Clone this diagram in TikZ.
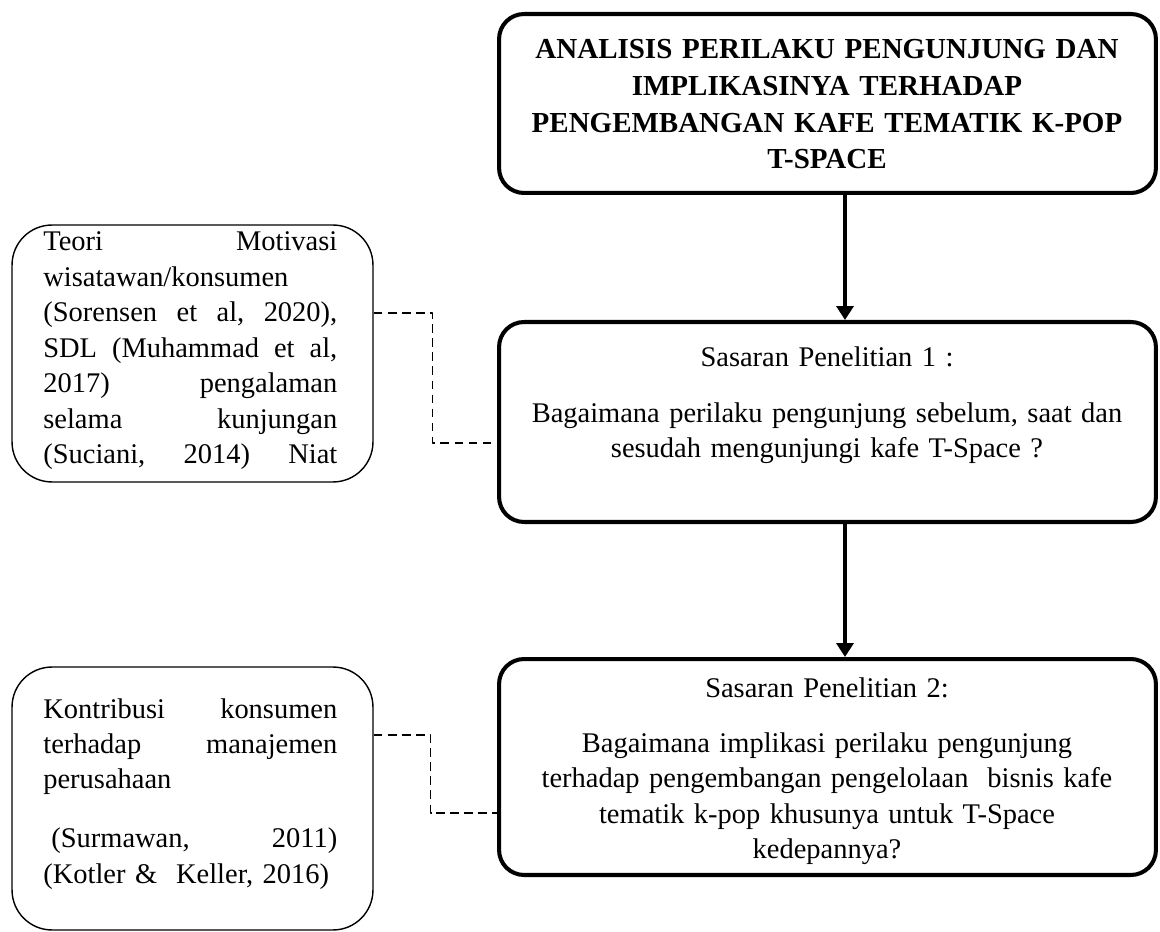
\documentclass[tikz,border=0pt]{standalone}
\usepackage{fontspec}
\setmainfont{Liberation Serif}
\usetikzlibrary{arrows.meta}

\tikzset{
  kotak/.style={draw, line width=2.3pt, rounded corners=0.5cm, minimum width=13.14cm},
  kotakkiri/.style={draw, line width=0.8pt, rounded corners=0.8cm, minimum width=7.22cm},
  teks/.style={text width=12.8cm, align=center, inner sep=0pt, font=\fontsize{16.2}{20.2}\selectfont},
  teksbold/.style={teks, font=\fontsize{16.5}{20.8}\selectfont\bfseries},
  tekskiri/.style={text width=5.88cm, align=left, inner sep=0pt, font=\fontsize{16.2}{20.2}\selectfont},
  panah/.style={-{Triangle[length=0.28cm, width=0.34cm]}, line width=2pt},
  putus/.style={dash pattern=on 5pt off 3pt, line width=0.6pt}
}

\begin{document}
\begin{tikzpicture}[x=0.02cm, y=-0.02cm, line join=round]

    \useasboundingbox (0,0) rectangle (1160,932);

    % Judul penelitian
    \node[kotak, minimum height=3.58cm] (judul) at (827.5,103.5) {};
    \node[teksbold, anchor=base] (judulteks) at (827,59) {ANALISIS PERILAKU PENGUNJUNG DAN\\ IMPLIKASINYA TERHADAP\\ PENGEMBANGAN KAFE TEMATIK K-POP\\ T-SPACE};

    % Sasaran penelitian
    \node[kotak, minimum height=4cm] (sasaran1) at (827.5,422) {};
    \node[teks, anchor=base] (sasaran1teks) at (827,367) {Sasaran Penelitian 1 :\\[0.4cm] Bagaimana perilaku pengunjung sebelum, saat dan\\ sesudah mengunjungi kafe T-Space ?};

    \node[kotak, minimum height=4.32cm] (sasaran2) at (827.5,767) {};
    \node[teks, anchor=base] (sasaran2teks) at (827,697) {Sasaran Penelitian 2:\\[0.4cm] Bagaimana implikasi perilaku pengunjung\\ terhadap pengembangan pengelolaan\ \ bisnis kafe\\ tematik k-pop khusunya untuk T-Space\\ kedepannya?};

    % Teori pendukung
    \node[kotakkiri, minimum height=5.14cm] (teori1) at (192.5,353.5) {};
    \node[tekskiri, anchor=base west] (teori1teks) at (43,251) {Teori\hfill Motivasi\\ wisatawan/konsumen\\ (Sorensen\hfill et\hfill al,\hfill 2020),\\ SDL\hfill (Muhammad\hfill et\hfill al,\\ 2017)\hfill pengalaman\\ selama\hfill kunjungan\\ (Suciani,\hfill 2014)\hfill Niat};

    \node[kotakkiri, minimum height=5.26cm] (teori2) at (192.5,798.5) {};
    \node[tekskiri, anchor=base west] (teori2teks) at (43,718) {Kontribusi\hfill konsumen\\ terhadap\hfill manajemen\\ perusahaan\\[0.47cm] \hspace*{0.16cm}(Surmawan,\hfill 2011)\\ \mbox{(Kotler \& \ Keller, 2016)}};

    % Panah alur
    \draw[panah] ([xshift=0.35cm]judul.south) -- ([xshift=0.35cm]sasaran1.north);
    \draw[panah] ([xshift=0.35cm]sasaran1.south) -- ([xshift=0.35cm]sasaran2.north);

    % Garis penghubung teori
    \draw[putus] ([yshift=0.81cm]teori1.east) -- ++(1.18cm,0) |- ([yshift=-0.42cm]sasaran1.west);
    \draw[putus] ([yshift=1.27cm]teori2.east) -- ++(1.14cm,0) |- ([yshift=-0.92cm]sasaran2.west);

\end{tikzpicture}
\end{document}
